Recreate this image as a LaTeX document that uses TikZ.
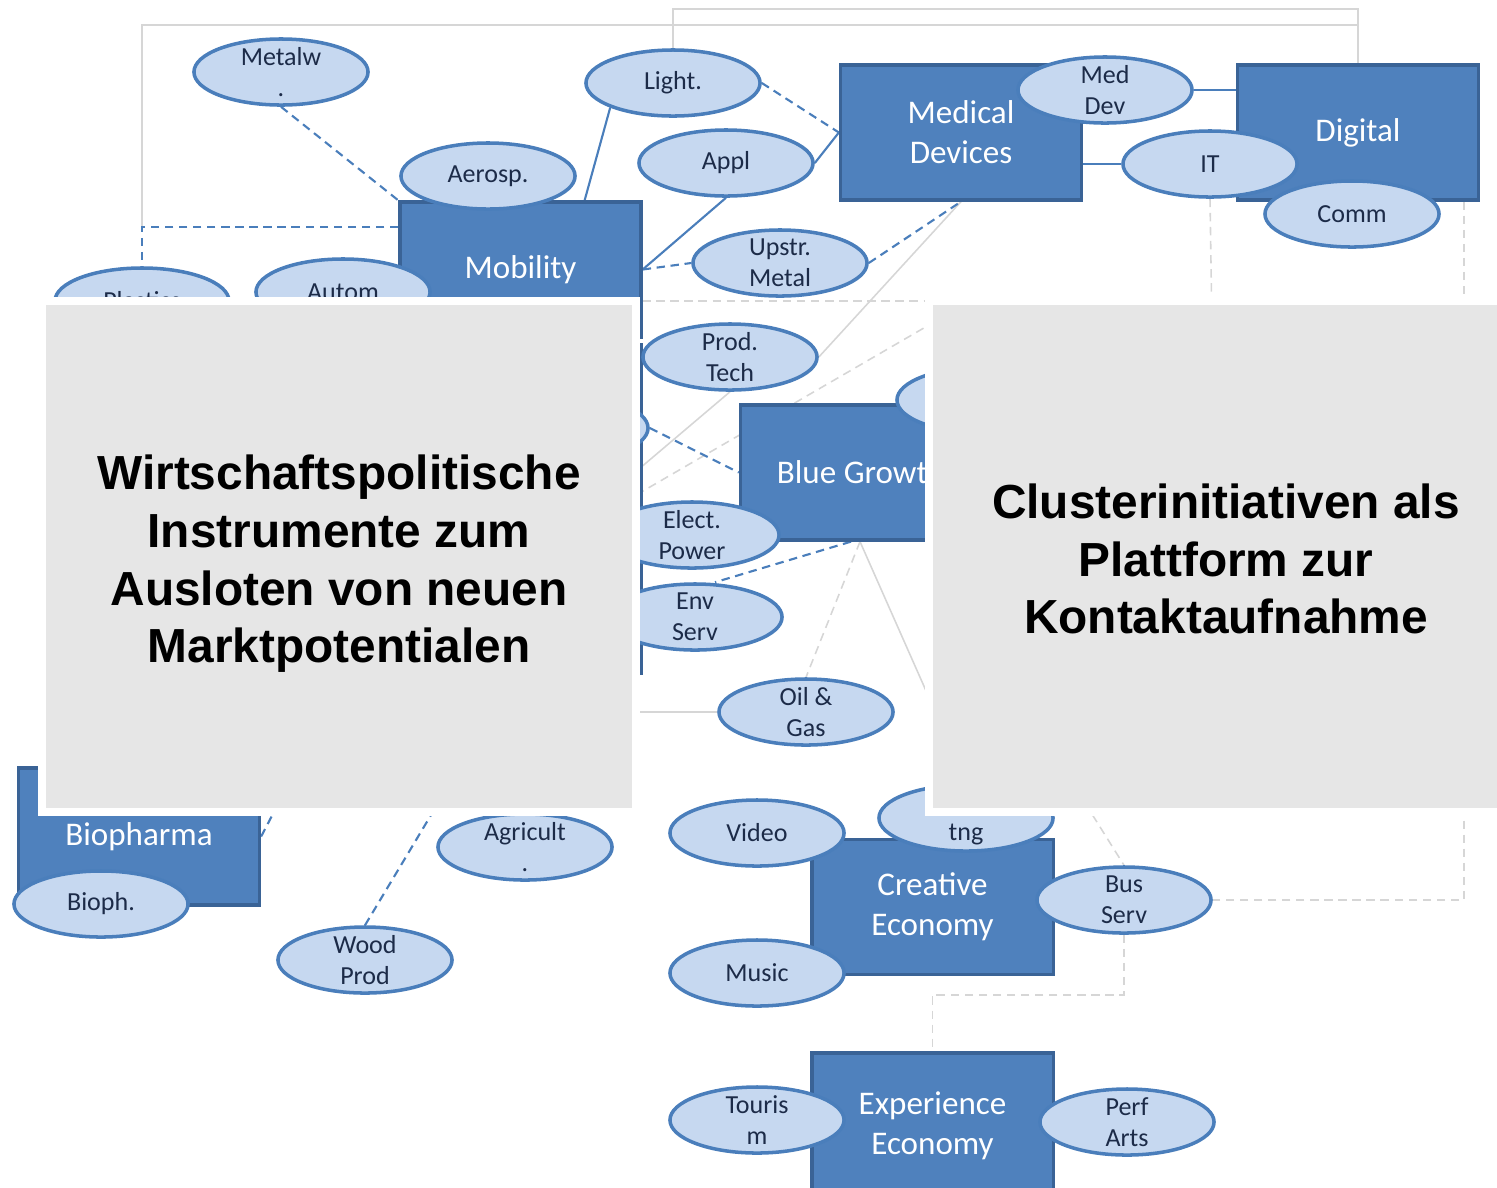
\documentclass[tikz,border=0pt]{standalone}
\usepackage{fontspec}
\setmainfont{Carlito}
\newfontfamily\panelfont{Liberation Sans}
\usetikzlibrary{shapes.geometric,backgrounds}

\definecolor{boxblue}{HTML}{4F81BD}
\definecolor{boxedge}{HTML}{3A6396}
\definecolor{ellfill}{HTML}{C6D8F0}
\definecolor{elledge}{HTML}{4A7EBB}
\definecolor{elltext}{HTML}{1C2B48}
\definecolor{linegray}{HTML}{D6D6D6}
\definecolor{panelgray}{HTML}{E6E6E6}

\tikzset{
  cluster/.style={rectangle, fill=boxblue, draw=boxedge, line width=0.9pt, text=white, align=center,
    inner sep=0pt, minimum width=2.41cm, minimum height=1.35cm, font=\fontsize{9.4}{11.4}\selectfont},
  branch/.style={ellipse, fill=ellfill, draw=elledge, line width=1pt, text=elltext, align=center,
    inner xsep=0pt, inner ysep=-3pt, minimum width=1.74cm, minimum height=0.66cm, font=\fontsize{7.4}{8.8}\selectfont},
  link/.style={draw=elledge, line width=0.6pt},
  linkdash/.style={link, dash pattern=on 2.4pt off 1.6pt},
  faint/.style={draw=linegray, line width=0.45pt},
  faintdash/.style={faint, dash pattern=on 2.4pt off 1.6pt},
  paneltext/.style={align=center, text=black, font=\panelfont\bfseries\fontsize{13.6}{16.4}\selectfont}
}

\begin{document}
\begin{tikzpicture}[x=0.01cm, y=-0.01cm]
    \useasboundingbox (0,0) rectangle (1497,1187);

    % clusters
    \node[cluster] (mob) at (520.5,269.5) {Mobility};
    \node[cluster, minimum height=3.28cm] (prodbox) at (520.5,509) {};
    \node[cluster] (med) at (961,132.5) {Medical\\Devices};
    \node[cluster] (dig) at (1358,132.5) {Digital};
    \node[cluster] (blue) at (861,472.5) {Blue Growth};
    \node[cluster, minimum height=1.37cm] (bio) at (139,836.5) {Biopharma};
    \node[cluster] (crea) at (932.5,907) {Creative\\Economy};
    \node[cluster, minimum height=1.45cm] (exp) at (932.5,1125.5) {Experience\\Economy};

    % branches
    \node[branch] (metal) at (281,72) {Metalw\\.};
    \node[branch] (light) at (673,83) {Light.};
    \node[branch] (aero) at (488,176) {Aerosp.};
    \node[branch] (appl) at (726,163) {Appl};
    \node[branch] (upstr) at (780,263) {Upstr.\\Metal};
    \node[branch] (mdev) at (1105,90) {Med\\Dev};
    \node[branch] (it) at (1210,164) {IT};
    \node[branch] (comm) at (1352,214) {Comm};
    \node[branch] (plast) at (142,301) {Plastics};
    \node[branch] (autom) at (343,292) {Autom};
    \node[branch] (prod) at (730,357) {Prod.\\Tech};
    \node[branch] (hida) at (561,428) {};
    \node[branch] (hidb) at (984,400) {};
    \node[branch] (elec) at (692,535) {Elect.\\Power};
    \node[branch] (envs) at (695,617) {Env\\Serv};
    \node[branch] (oil) at (806,712) {Oil \&\\Gas};
    \node[branch] (video) at (757,833) {Video};
    \node[branch] (tng) at (966,818) {};
    \node[text=elltext, font=\fontsize{7.4}{8.8}\selectfont] (tngtext) at ([yshift=-0.16cm]tng.center) {tng};
    \node[branch] (music) at (757,973) {Music};
    \node[branch] (bus) at (1124,900) {Bus\\Serv};
    \node[branch] (tour) at (757,1120) {Touris\\m};
    \node[branch] (perf) at (1127,1122) {Perf\\Arts};
    \node[branch] (bioph) at (101,904) {Bioph.};
    \node[branch] (wood) at (365,960) {Wood\\Prod};
    \node[branch] (agri) at (525,847) {Agricult\\.};

    % corners and ends under the panels
    \coordinate (plk) at (142,227);
    \coordinate (topk) at (1357,25);
    \coordinate (itend) at (1212,330);
    \coordinate (bgend) at (950,745);
    \coordinate (bsstart) at (1085,803);
    \coordinate (oilend) at (600,712);
    \coordinate (prodend) at (600,502);
    \coordinate (gaa) at (960,307);
    \coordinate (gab) at (600,516);
    \coordinate (gba) at (600,301);
    \coordinate (gbb) at (960,301);
    \coordinate (woodend) at (452,780);
    \coordinate (bioend) at (276,808);

    \begin{scope}[on background layer]
        \draw[faint] (light.north) -- ++(0,-39) -| (dig.north);
        \draw[faint] (plk) |- (topk);
        \draw[faintdash] (it.south) -- (itend);
        \draw[faintdash] ([xshift=-0.16cm]dig.south east) |- (bus.east);
        \draw[faintdash] (bus.south) -- ++(0,60) -| (exp.north);
        \draw[faintdash] ([xshift=-0.01cm]blue.south) -- (oil.north);
        \draw[faint] ([xshift=-0.01cm]blue.south) -- (bgend);
        \draw[faintdash] (bsstart) -- (bus.north);
        \draw[faint] (oil.west) -- (oilend);
        \draw[faint] (med.south) -- (prod.east);
        \draw[faint] (prod.south) -- (prodend);
        \draw[faintdash] (gaa) -- (gab);
        \draw[faintdash] (gba) -- (gbb);

        \draw[linkdash] (metal.south) -- (mob.north west);
        \draw[link] (light.south west) -- ([xshift=-0.58cm]mob.north east);
        \draw[link] (appl.south) -- (mob.east);
        \draw[linkdash] (mob.east) -- (upstr.west);
        \draw[linkdash] (light.east) -- (med.west);
        \draw[link] (appl.east) -- (med.west);
        \draw[linkdash] (upstr.east) -- (med.south);
        \draw[link] (mdev.east) -- (mdev.east -| dig.west);
        \draw[link] (it.west -| med.east) -- (it.west);
        \draw[linkdash] (mob.north west |- plk) -- (plk) -- (plast.north);
        \draw[linkdash] (hida.east) -- (blue.west);
        \draw[linkdash] ([xshift=-0.1cm]blue.south) -- ([xshift=0.2cm]envs.north);
        \draw[linkdash] (wood.north) -- (woodend);
        \draw[linkdash] (bio.east) -- (bioend);
    \end{scope}

    % panels on top
    \fill[white] (38,297) rectangle (640,816);
    \fill[panelgray] (46,305) rectangle (632,808);
    \fill[white] (925,297) rectangle (1497,816);
    \fill[panelgray] (933,305) rectangle (1497,808);
    \node[paneltext] (lefttext) at (339,564) {Wirtschaftspolitische\\Instrumente zum\\Ausloten von neuen\\Marktpotentialen};
    \node[paneltext] (righttext) at (1226,559) {Clusterinitiativen als\\Plattform zur\\Kontaktaufnahme};
\end{tikzpicture}
\end{document}
